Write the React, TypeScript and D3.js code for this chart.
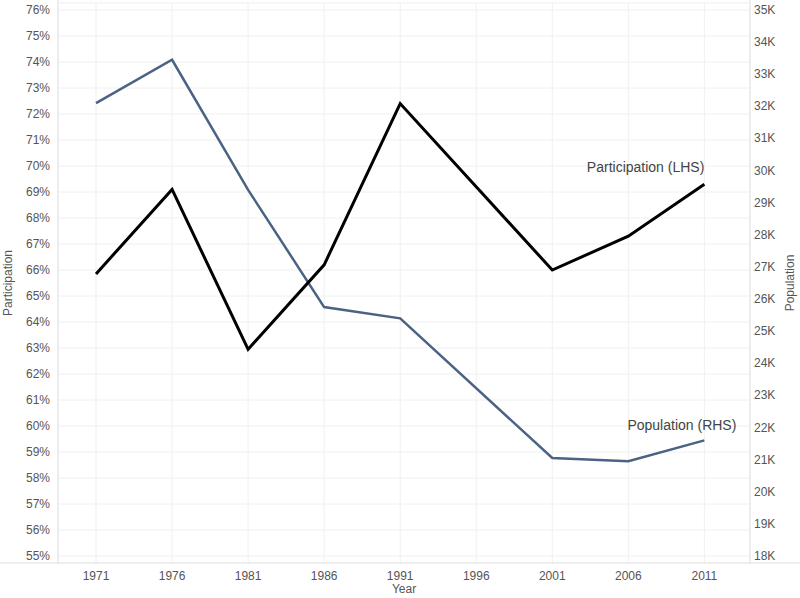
import * as d3 from "d3";
import { useEffect, useRef } from "react";

const years = [1971, 1976, 1981, 1986, 1991, 2001, 2006, 2011];
const participation = [65.85, 69.1, 62.95, 66.2, 72.4, 66.0, 67.3, 69.3];
const population = [32.1, 33.45, 29.4, 25.75, 25.4, 21.05, 20.95, 21.6];
const xTicks = [1971, 1976, 1981, 1986, 1991, 1996, 2001, 2006, 2011];

export default function App() {
  const ref = useRef<SVGSVGElement | null>(null);

  useEffect(() => {
    const svg = d3.select(ref.current!);
    svg.selectAll("*").remove();
    const W = 800, H = 598;
    const left = 58, right = 750, top = 3, bottom = 563;
    const font = "Liberation Sans, Arial, sans-serif";

    const x = d3.scaleLinear().domain([1968.5, 2014]).range([left, right]);
    const yL = d3.scaleLinear().domain([55, 76]).range([556, 10]);
    const yR = d3.scaleLinear().domain([18, 35]).range([556, 10]);

    const g = svg.append("g");
    // gridlines
    g.selectAll(".hg").data(d3.range(55, 77)).join("line")
      .attr("x1", left).attr("x2", right)
      .attr("y1", (d) => yL(d)).attr("y2", (d) => yL(d))
      .attr("stroke", "#f0f0f0");
    g.selectAll(".vg").data(xTicks).join("line")
      .attr("y1", top).attr("y2", bottom)
      .attr("x1", (d) => x(d)).attr("x2", (d) => x(d))
      .attr("stroke", "#f0f0f0");
    // frame lines
    g.append("line").attr("x1", left).attr("x2", left).attr("y1", 0).attr("y2", bottom).attr("stroke", "#ddd");
    g.append("line").attr("x1", right).attr("x2", right).attr("y1", 0).attr("y2", bottom).attr("stroke", "#ddd");
    g.append("line").attr("x1", 0).attr("x2", W).attr("y1", bottom).attr("y2", bottom).attr("stroke", "#ddd");
    g.append("line").attr("x1", left).attr("x2", right).attr("y1", top).attr("y2", top).attr("stroke", "#eee");

    const txt = (sel: any) => sel.attr("font-family", font).attr("font-size", 12).attr("fill", "#555");
    g.selectAll(".lt").data(d3.range(55, 77)).join("text")
      .call(txt).attr("x", left - 8).attr("y", (d) => yL(d) + 4)
      .attr("text-anchor", "end").text((d) => d + "%");
    g.selectAll(".rt").data(d3.range(18, 36)).join("text")
      .call(txt).attr("x", right + 4).attr("y", (d) => yR(d) + 4)
      .text((d) => d + "K");
    g.selectAll(".xt").data(xTicks).join("text")
      .call(txt).attr("x", (d) => x(d)).attr("y", 580)
      .attr("text-anchor", "middle").text((d) => d);
    g.append("text").call(txt).attr("x", (left + right) / 2).attr("y", 593).attr("text-anchor", "middle").text("Year");
    g.append("text").call(txt).attr("transform", `translate(12,${283}) rotate(-90)`).attr("text-anchor", "middle").text("Participation");
    g.append("text").call(txt).attr("transform", `translate(794,${283}) rotate(-90)`).attr("text-anchor", "middle").text("Population");

    const lineL = d3.line<number>().x((_, i) => x(years[i])).y((d) => yL(d));
    const lineR = d3.line<number>().x((_, i) => x(years[i])).y((d) => yR(d));
    g.append("path").datum(population).attr("d", lineR).attr("fill", "none")
      .attr("stroke", "#4a6384").attr("stroke-width", 2.5);
    g.append("path").datum(participation).attr("d", lineL).attr("fill", "none")
      .attr("stroke", "#000").attr("stroke-width", 3);

    g.append("text").attr("font-family", font).attr("font-size", 14).attr("fill", "#444")
      .attr("x", x(2011)).attr("y", yL(69.3) - 12).attr("text-anchor", "end").text("Participation (LHS)");
    g.append("text").attr("font-family", font).attr("font-size", 14).attr("fill", "#444")
      .attr("x", x(2011) + 32).attr("y", yR(21.6) - 10).attr("text-anchor", "end").text("Population (RHS)");
  }, []);

  return <svg ref={ref} width={800} height={598} style={{ position: "absolute", left: 0, top: 0 }} />;
}
